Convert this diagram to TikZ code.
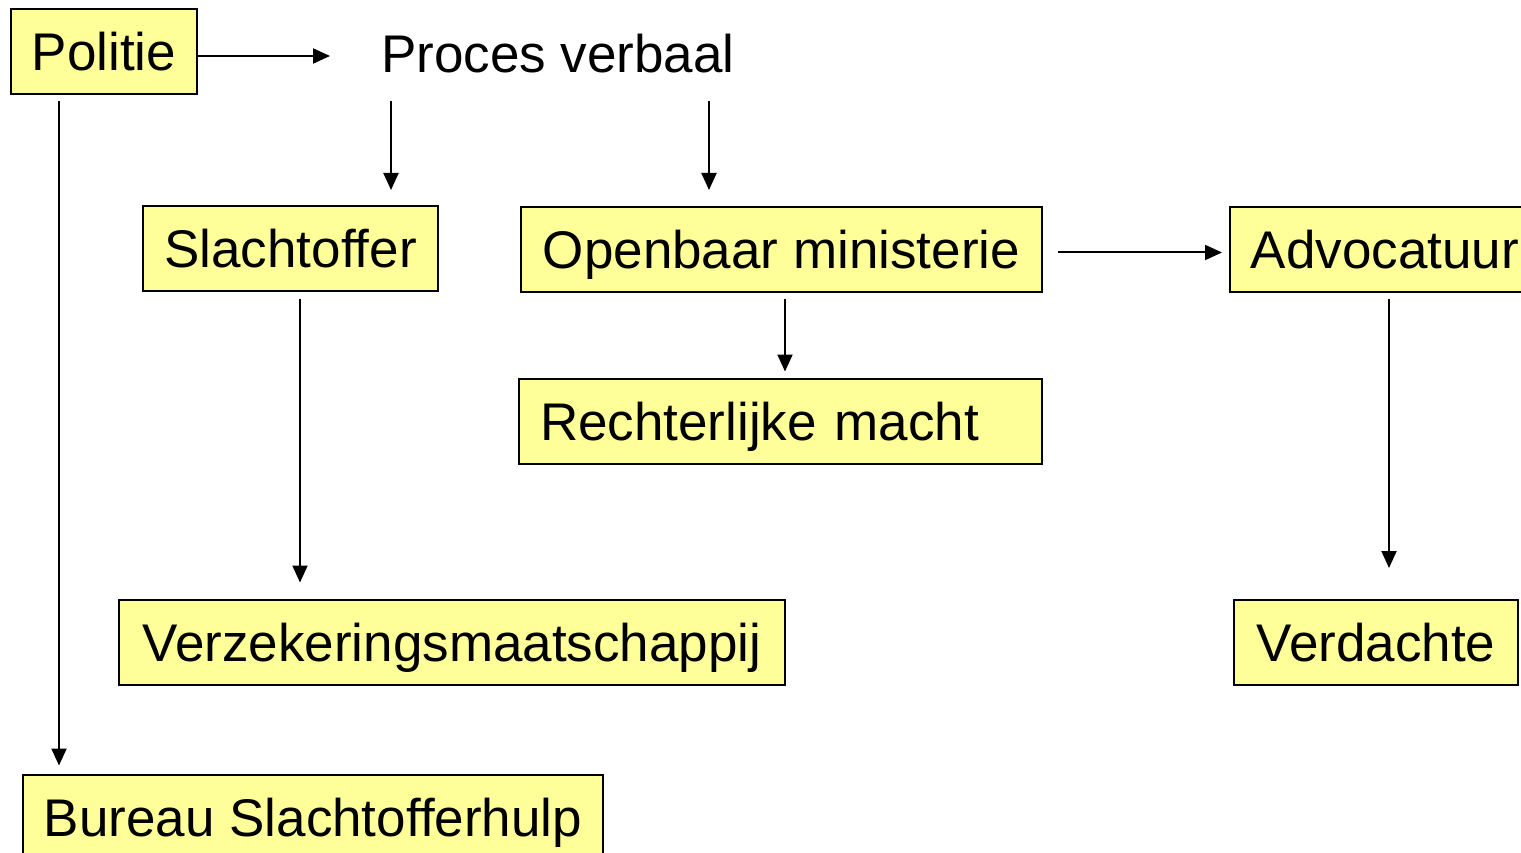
\documentclass[tikz,border=0pt]{standalone}
\usepackage{fontspec}
\setmainfont[Ligatures=NoCommon]{Liberation Sans}
\usetikzlibrary{arrows.meta}
\definecolor{boxyellow}{RGB}{255, 255, 153}

\begin{document}
\begin{tikzpicture}[
    x=1pt, y=-1pt,
    % Define Styles for Consistency
    box/.style={
        rectangle, draw=black, line width=2pt, fill=boxyellow,
        font=\fontsize{53}{60}\selectfont, text height=38pt, text depth=0pt,
        inner sep=0pt, minimum height=85pt
    },
    plain/.style={
        font=\fontsize{53}{60}\selectfont, text height=38pt, text depth=0pt,
        inner sep=0pt
    },
    arrow/.style={
        -{Triangle[length=17pt, width=15pt]}, line width=2pt, draw=black
    }
]
    \useasboundingbox (0,0) rectangle (1521,853);

    % --- 1. Top row ---
    \node[box, minimum width=186pt] (politie) at (104, 52) {Politie};
    \node[plain] (pv) at (558, 54) {Proces verbaal};

    % --- 2. Second row ---
    \node[box, minimum width=295pt] (slachtoffer) at (290.5, 248.5) {Slachtoffer};
    \node[box, minimum width=521pt] (om) at (781.5, 249.5) {Openbaar ministerie};
    \node[box, minimum width=310pt] (advocatuur) at (1385, 249.5) {Advocatuur};

    % --- 3. Lower boxes ---
    \node[box, minimum width=523pt, text width=481pt, align=left] (rechter) at (780.5, 421) {Rechterlijke macht};
    \node[box, minimum width=666pt] (verzekering) at (452, 642) {Verzekeringsmaatschappij};
    \node[box, minimum width=284pt] (verdachte) at (1376, 642.5) {Verdachte};
    \node[box, minimum width=580pt] (bureau) at (313, 817) {Bureau Slachtofferhulp};

    % --- 4. Connecting arrows ---
    \draw[arrow, shorten >=51pt] ([yshift=-4pt]politie.east) -- ([yshift=-4pt]politie.east -| pv.west);
    \draw[arrow, shorten <=6pt, shorten >=8pt] ([xshift=-45pt]politie.south) -- ([xshift=-45pt]politie.south |- bureau.north);

    \draw[arrow, shorten <=28pt, shorten >=15pt] ([xshift=-167pt]pv.south) -- ([xshift=-167pt]pv.south |- slachtoffer.north);
    \draw[arrow, shorten <=28pt, shorten >=16pt] ([xshift=151pt]pv.south) -- ([xshift=151pt]pv.south |- om.north);

    \draw[arrow, shorten <=15pt, shorten >=7pt] ([yshift=-3pt]om.east) -- ([yshift=-3pt]om.east -| advocatuur.west);
    \draw[arrow, shorten <=6pt, shorten >=6pt] ([xshift=3.5pt]om.south) -- ([xshift=3.5pt]om.south |- rechter.north);

    \draw[arrow, shorten <=7pt, shorten >=16pt] ([xshift=9.5pt]slachtoffer.south) -- ([xshift=9.5pt]slachtoffer.south |- verzekering.north);
    \draw[arrow, shorten <=6pt, shorten >=31pt] ([xshift=4pt]advocatuur.south) -- ([xshift=4pt]advocatuur.south |- verdachte.north);

\end{tikzpicture}
\end{document}
